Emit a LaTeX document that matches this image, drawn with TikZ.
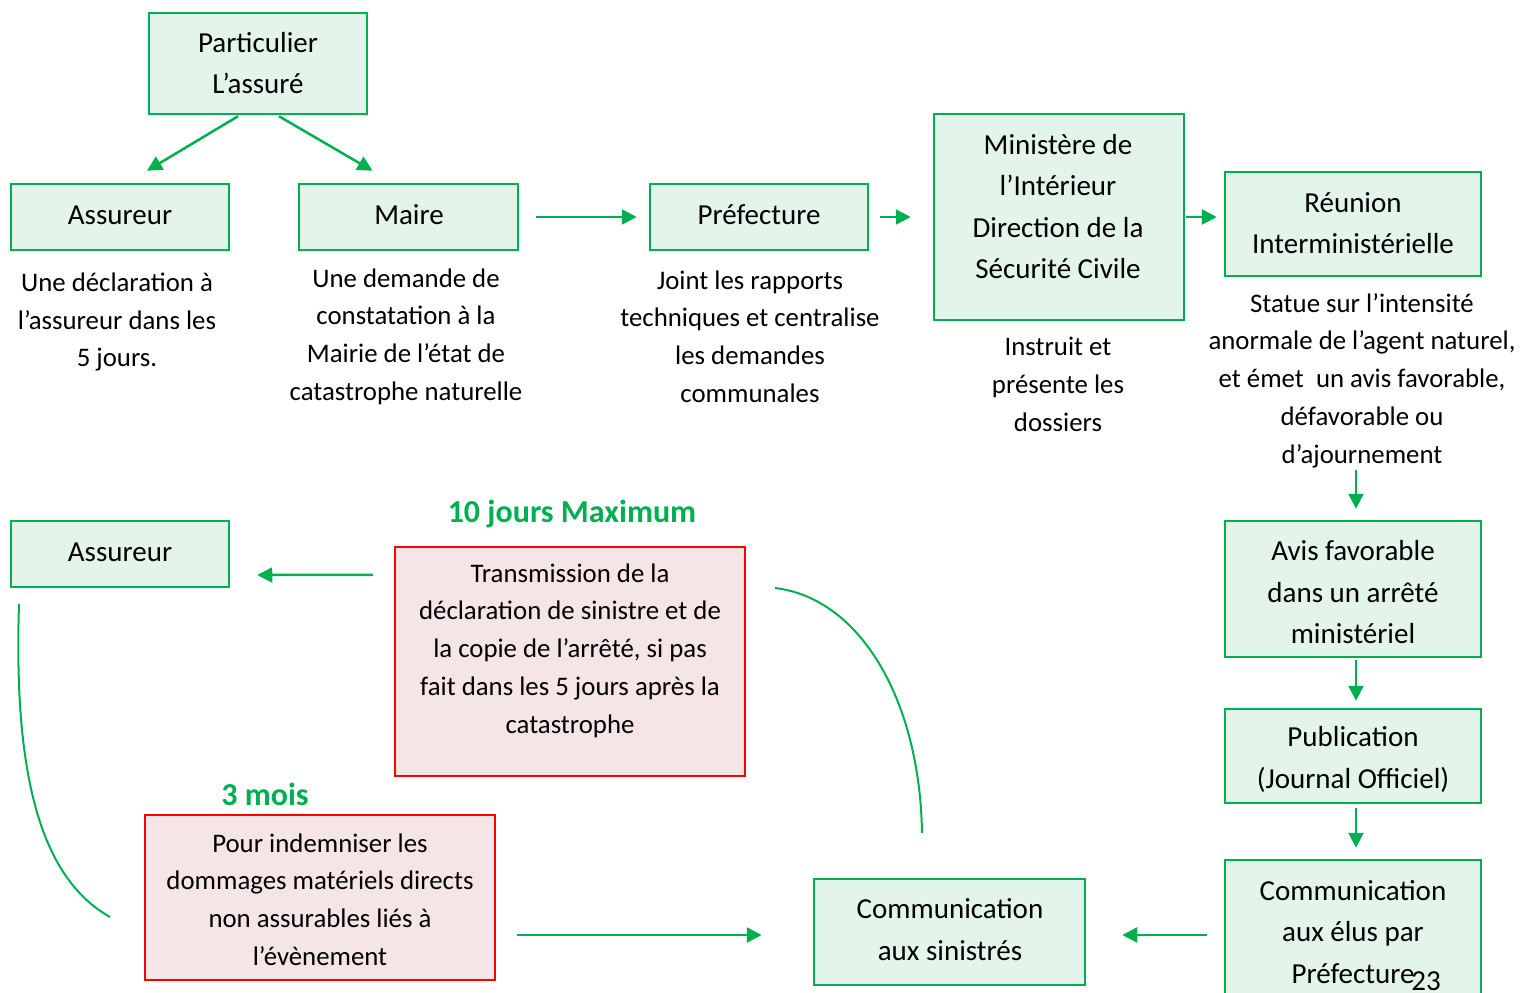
\documentclass[tikz,border=0pt]{standalone}
\usepackage{fontspec}
\setmainfont{Carlito}
\usetikzlibrary{arrows.meta,calc}
\definecolor{G}{HTML}{00B050}
\definecolor{GF}{HTML}{E3F5EA}
\definecolor{RF}{HTML}{F5E5E7}
\definecolor{RD}{HTML}{FF0000}
\tikzset{
  gbox/.style={draw=G, fill=GF, line width=2.5pt, rectangle, inner sep=0pt},
  rbox/.style={draw=RD, fill=RF, line width=2.2pt, rectangle, inner sep=0pt},
  tb/.style={align=center, inner sep=0pt, font=\fontsize{29}{41.5}\selectfont},
  tx/.style={align=center, inner sep=0pt, font=\fontsize{26.8}{37.7}\selectfont},
  lab/.style={align=center, inner sep=0pt, text=G, font=\fontsize{32}{38}\selectfont\bfseries},
  arr/.style={draw=G, line width=2.5pt, -{Triangle[length=15pt,width=15pt]}},
  curve/.style={draw=G, line width=2pt}
}
\begin{document}
\begin{tikzpicture}[x=1pt,y=-1pt]
\useasboundingbox (0,0) rectangle (1521,993);
% boxes
\node[gbox, minimum width=218, minimum height=101] (part) at (258,63.5) {};
\node[tb] (partT) at (258,63) {Particulier\\L’assuré};
\node[gbox, minimum width=218, minimum height=66] (ass1) at (120,217) {};
\node[tb] (ass1T) at (120,215) {Assureur};
\node[gbox, minimum width=219, minimum height=66] (maire) at (408.5,217) {};
\node[tb] (maireT) at (409,215) {Maire};
\node[gbox, minimum width=218, minimum height=66] (pref) at (759,217) {};
\node[tb] (prefT) at (759,215) {Préfecture};
\node[gbox, minimum width=250, minimum height=206] (min) at (1059,217) {};
\node[tb] (minT) at (1058,206.5) {Ministère de\\l’Intérieur\\Direction de la\\Sécurité Civile};
\node[gbox, minimum width=256, minimum height=104] (reun) at (1353,224) {};
\node[tb] (reunT0) at (1353,223) {Réunion\\Interministérielle};
\node[gbox, minimum width=256, minimum height=136] (avis) at (1353,589) {};
\node[tb] (avisT) at (1353,592.5) {Avis favorable\\dans un arrêté\\ministériel};
\node[gbox, minimum width=256, minimum height=94] (pub) at (1353,756) {};
\node[tb] (pubT) at (1353,759.5) {Publication\\(Journal Officiel)};
\node[gbox, minimum width=256, minimum height=150] (elus) at (1353,935) {};
\node[tb] (elusT) at (1353,932) {Communication\\aux élus par\\Préfecture};
\node[tb] (page) at (1426,981) {23};
\node[gbox, minimum width=271, minimum height=106] (sin) at (949.5,932) {};
\node[tb] (sinT) at (950,929.5) {Communication\\aux sinistrés};
\node[rbox, minimum width=350, minimum height=229] (trans) at (570,661.5) {};
\node[tx] (transT) at (570,650.5) {Transmission de la\\déclaration de sinistre et de\\la copie de l’arrêté, si pas\\fait dans les 5 jours après la\\catastrophe};
\node[rbox, minimum width=350, minimum height=165] (indem) at (320,897.5) {};
\node[tx] (indemT) at (320,899.5) {Pour indemniser les\\dommages matériels directs\\non assurables liés à\\l’évènement};
\node[gbox, minimum width=218, minimum height=66] (ass2) at (120,554) {};
\node[tb] (ass2T) at (120,552) {Assureur};
% free texts
\node[tx] (ass1D) at (117,322) {Une déclaration à\\l’assureur dans les\\5 jours.};
\node[tx] (maireD) at (406,336.5) {Une demande de\\constatation à la\\Mairie de l’état de\\catastrophe naturelle};
\node[tx] (prefD) at (750,336.5) {Joint les rapports\\techniques et centralise\\les demandes\\communales};
\node[tx] (minD) at (1058,384.5) {Instruit et\\présente les\\dossiers};
\node[tx] (reunT) at (1362,380.5) {Statue sur l’intensité\\anormale de l’agent naturel,\\et émet \ un avis favorable,\\défavorable ou\\d’ajournement};
\node[lab] (l10) at (572,514) {10 jours Maximum};
\node[lab] (l3) at (265,794) {3 mois};
% arrows
\draw[arr] ($(part.south)+(-20,1)$) -- ($(ass1.north)+(27,-12)$);
\draw[arr] ($(part.south)+(21,1)$) -- ($(maire.north)+(-36,-12)$);
\draw[arr, shorten <=17pt, shorten >=12pt] (maire.east) -- (pref.west);
\draw[arr, shorten <=11pt, shorten >=22pt] (pref.east) -- (pref.east -| min.west);
\draw[arr, shorten <=1pt, shorten >=7pt] (min.east) -- (min.east -| reun.west);
\draw[arr, shorten <=2pt, shorten >=11pt] ($(avis.north |- reunT.south)+(3,0)$) -- ($(avis.north)+(3,0)$);
\draw[arr, shorten <=2pt, shorten >=7pt] ($(avis.south)+(3,0)$) -- ($(pub.north)+(3,0)$);
\draw[arr, shorten <=4pt, shorten >=11pt] ($(pub.south)+(3,0)$) -- ($(elus.north)+(3,0)$);
\draw[arr, shorten <=17pt, shorten >=36pt] (elus.west) -- (elus.west -| sin.east);
\draw[arr, shorten <=21pt, shorten >=51pt] (indem.east |- elus.west) -- (sin.west |- elus.west);
\draw[arr] ($(trans.north west)+(-21,29)$) -- ($(ass2.east)+(27,21)$);
% curves
\coordinate (cl1) at (19,604);
\coordinate (cl2) at (110,917);
\coordinate (cr1) at (775,588);
\coordinate (cr2) at (922,833);
\draw[curve] (cl1) .. controls (14,760) and (35,875) .. (cl2);
\draw[curve] (cr1) .. controls (860,598) and (920,700) .. (cr2);
\end{tikzpicture}
\end{document}
